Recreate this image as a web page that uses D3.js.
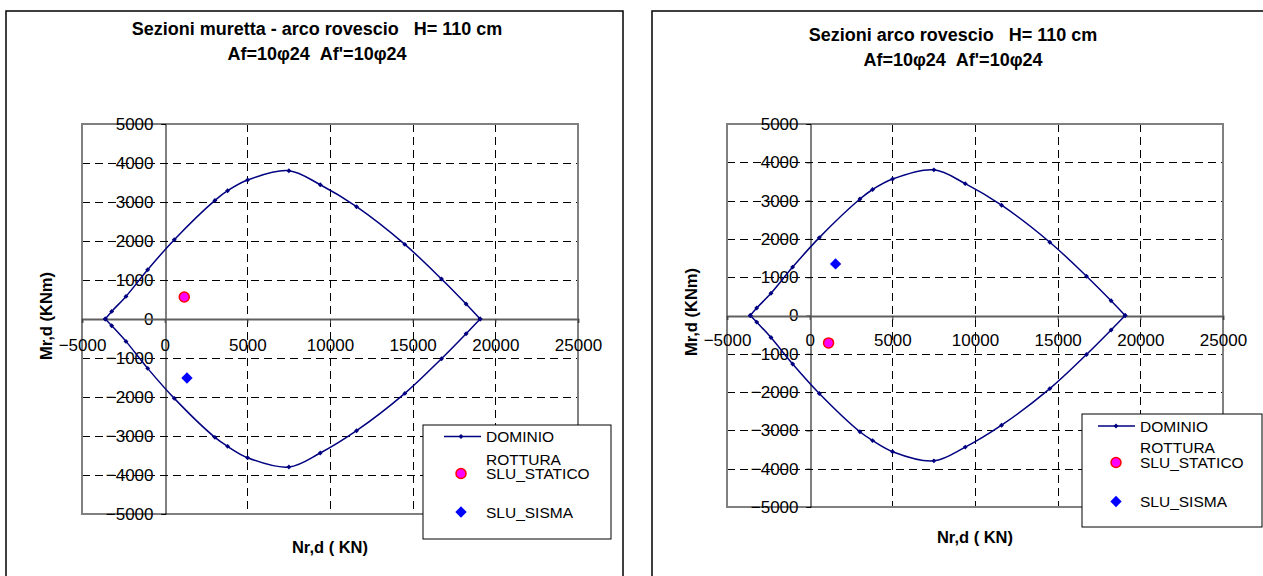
<!DOCTYPE html>
<html><head><meta charset="utf-8">
<script src="https://cdn.jsdelivr.net/npm/d3@7"></script>
<style>
body{margin:0;background:#fff}
svg{display:block}
text{font-family:"Liberation Sans",Arial,sans-serif;white-space:pre}
</style>
</head><body>
<svg id="c" width="1263" height="576"></svg>
<script>
// ---------------- data ----------------
const xTicks = [-5000, 0, 5000, 10000, 15000, 20000, 25000];
const yTicks = [-5000, -4000, -3000, -2000, -1000, 0, 1000, 2000, 3000, 4000, 5000];
const xGrid = [5000, 10000, 15000, 20000];
const yGrid = [-4000, -3000, -2000, -1000, 1000, 2000, 3000, 4000];

// interaction domain (Nr,d [KN], Mr,d [KNm])
const domainN      = [-3590, -3204, -2340, -1028, 582, 3040, 3806, 5015, 7514, 9410, 11606, 14526, 16744, 18232, 19080];
const domainMUpper = [0, 195, 580, 1264, 2033, 3041, 3290, 3564, 3803, 3443, 2880, 1913, 1026, 385, 0];
const domainMLower = [0, -172, -574, -1266, -2035, -3035, -3266, -3556, -3795, -3436, -2864, -1908, -1018, -377, 0];

const titlesLeft  = ["Sezioni muretta - arco rovescio   H= 110 cm", "Af=10\u03C624  Af'=10\u03C624"];
const titlesRight = ["Sezioni arco rovescio   H= 110 cm", "Af=10\u03C624  Af'=10\u03C624"];

const staticoLeft  = [1185, 564];
const sismaLeft    = [1348, -1513];
const staticoRight = [1143, -715];
const sismaRight   = [1566, 1347];

const legendLabels = ["DOMINIO", ["ROTTURA", "SLU_STATICO"], "SLU_SISMA"];
const xTitle = "Nr,d ( KN)";
const yTitle = "Mr,d (KNm)";

// ---------------- layout ----------------
const charts = [
  {
    titles: titlesLeft, statico: staticoLeft, sisma: sismaLeft,
    frame: {x: 6, y: 11, w: 617, h: 600},
    plot: {x0: 82, x1: 578, y0: 124, y1: 514},
    titleX: 317, titleY: [35, 60],
    xTitleX: 330, xTitleY: 553,
    yTitleX: 46, yTitleY: 316,
    xTickPad: 16,
    legend: {x: 423, y: 425, w: 188, h: 114, lx0: 21, lx1: 58, tx: 63, mx: 38, y1: 11.5, y2a: 34, y2b: 48.5, y3: 87}
  },
  {
    titles: titlesRight, statico: staticoRight, sisma: sismaRight,
    frame: {x: 652, y: 11, w: 640, h: 600},
    plot: {x0: 727, x1: 1223, y0: 124, y1: 507},
    titleX: 953, titleY: [41, 66],
    xTitleX: 975, xTitleY: 543,
    yTitleX: 691, yTitleY: 312,
    xTickPad: 14,
    legend: {x: 1082, y: 414, w: 180, h: 113, lx0: 16, lx1: 53, tx: 58, mx: 34, y1: 12, y2a: 33.5, y2b: 48.5, y3: 87.5}
  }
];

const svg = d3.select("#c");
const NAVY = "#000080";
const FONT = '"Liberation Sans",Arial,sans-serif';
// square symbol rotated 45deg gives an even diamond
const sq = s => d3.symbol().type(d3.symbolSquare).size(s)();

charts.forEach(c => {
  const g = svg.append("g");
  const p = c.plot;
  const x = d3.scaleLinear().domain([-5000, 25000]).range([p.x0, p.x1]);
  const y = d3.scaleLinear().domain([-5000, 5000]).range([p.y1, p.y0]);

  // outer frame
  g.append("rect").attr("x", c.frame.x).attr("y", c.frame.y)
    .attr("width", c.frame.w).attr("height", c.frame.h)
    .attr("fill", "#fff").attr("stroke", "#000").attr("stroke-width", 1.5);

  // titles
  c.titles.forEach((t, i) => {
    g.append("text").attr("x", c.titleX).attr("y", c.titleY[i])
      .attr("text-anchor", "middle").attr("font-size", 18).attr("font-weight", "bold")
      .text(t);
  });

  // grid
  const gg = g.append("g");
  yGrid.forEach(v => {
    gg.append("line").attr("x1", p.x0).attr("x2", p.x1)
      .attr("y1", Math.round(y(v)) + 0.5).attr("y2", Math.round(y(v)) + 0.5)
      .attr("stroke", "#000").attr("stroke-dasharray", "8,5");
  });
  xGrid.forEach(v => {
    gg.append("line").attr("y1", p.y0).attr("y2", p.y1)
      .attr("x1", Math.round(x(v)) + 0.5).attr("x2", Math.round(x(v)) + 0.5)
      .attr("stroke", "#000").attr("stroke-dasharray", "8,5");
  });

  // plot border
  g.append("rect").attr("x", p.x0).attr("y", p.y0)
    .attr("width", p.x1 - p.x0).attr("height", p.y1 - p.y0)
    .attr("fill", "none").attr("stroke", "#808080").attr("stroke-width", 2);

  // y axis at N = 0
  const ya = g.append("g").attr("transform", `translate(${Math.round(x(0)) + 0.5},0)`)
    .call(d3.axisLeft(y).tickValues(yTicks).tickSize(4).tickPadding(8).tickFormat(d3.format("d")));
  ya.select(".domain").attr("stroke", "#000");
  ya.selectAll(".tick line").attr("stroke", "#000");
  ya.selectAll("text").attr("font-size", 17).attr("font-family", FONT).attr("fill", "#000");

  // x axis at M = 0
  const xa = g.append("g").attr("transform", `translate(0,${Math.round(y(0))})`)
    .call(d3.axisBottom(x).tickValues(xTicks).tickSize(4).tickPadding(c.xTickPad).tickFormat(d3.format("d")));
  xa.select(".domain").attr("stroke", "#606060").attr("stroke-width", 2);
  xa.selectAll(".tick line").attr("stroke", "#404040");
  xa.selectAll("text").attr("font-size", 17).attr("font-family", FONT).attr("fill", "#000");

  // axis titles
  g.append("text").attr("x", c.xTitleX).attr("y", c.xTitleY)
    .attr("text-anchor", "middle").attr("font-size", 16.5).attr("font-weight", "bold").text(xTitle);
  g.append("text").attr("transform", `translate(${c.yTitleX},${c.yTitleY}) rotate(-90)`)
    .attr("text-anchor", "middle").attr("dy", "0.36em")
    .attr("font-size", 16.5).attr("font-weight", "bold").text(yTitle);

  // domain curve (two branches)
  const line = d3.line().x(d => x(d[0])).y(d => y(d[1])).curve(d3.curveCatmullRom.alpha(0.5));
  const upper = domainN.map((n, i) => [n, domainMUpper[i]]);
  const lower = domainN.map((n, i) => [n, domainMLower[i]]);
  [upper, lower].forEach(br => {
    g.append("path").datum(br).attr("d", line)
      .attr("fill", "none").attr("stroke", NAVY).attr("stroke-width", 1.5);
    g.selectAll(null).data(br).enter().append("path")
      .attr("d", sq(12))
      .attr("transform", d => `translate(${x(d[0])},${y(d[1])}) rotate(45)`)
      .attr("fill", NAVY);
  });

  // load points
  g.append("circle").attr("cx", x(c.statico[0])).attr("cy", y(c.statico[1])).attr("r", 5)
    .attr("fill", "#FF00FF").attr("stroke", "#FF0000").attr("stroke-width", 1.5);
  g.append("path").attr("d", sq(64))
    .attr("transform", `translate(${x(c.sisma[0])},${y(c.sisma[1])}) rotate(45)`)
    .attr("fill", "#0000FF");

  // legend
  const L = c.legend;
  const lg = g.append("g").attr("transform", `translate(${L.x},${L.y})`);
  lg.append("rect").attr("width", L.w).attr("height", L.h)
    .attr("fill", "#fff").attr("stroke", "#000").attr("stroke-width", 1);
  lg.append("line").attr("x1", L.lx0).attr("x2", L.lx1).attr("y1", L.y1).attr("y2", L.y1)
    .attr("stroke", NAVY).attr("stroke-width", 1.5);
  lg.append("path").attr("d", sq(12)).attr("transform", `translate(${L.mx},${L.y1}) rotate(45)`).attr("fill", NAVY);
  lg.append("circle").attr("cx", L.mx).attr("cy", L.y2b).attr("r", 5)
    .attr("fill", "#FF00FF").attr("stroke", "#FF0000").attr("stroke-width", 1.5);
  lg.append("path").attr("d", sq(64))
    .attr("transform", `translate(${L.mx},${L.y3}) rotate(45)`).attr("fill", "#0000FF");
  const lt = (txt, yy) => lg.append("text").attr("x", L.tx).attr("y", yy).attr("dy", "0.36em")
    .attr("font-size", 15.5).text(txt);
  lt(legendLabels[0], L.y1);
  lt(legendLabels[1][0], L.y2a);
  lt(legendLabels[1][1], L.y2b);
  lt(legendLabels[2], L.y3);
});
</script>
</body></html>
